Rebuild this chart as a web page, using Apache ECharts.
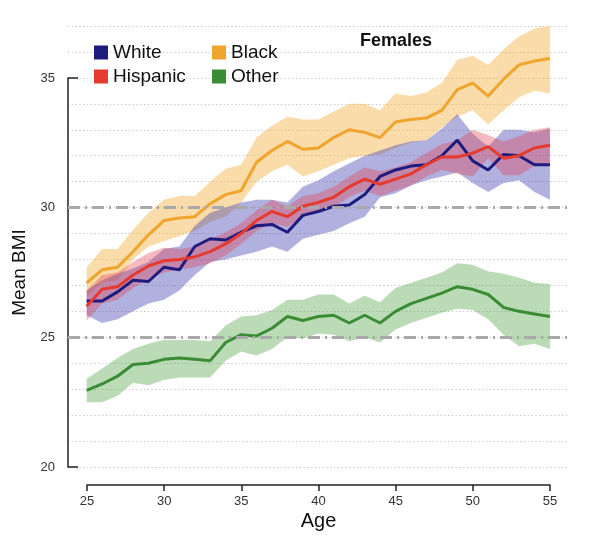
<!DOCTYPE html>
<html>
<head>
<meta charset="utf-8">
<script src="https://cdn.jsdelivr.net/npm/echarts@6.0.0/dist/echarts.min.js"></script>
<style>
  html, body { margin: 0; padding: 0; background: #fff; }
  #main { width: 596px; height: 544px; }
</style>
</head>
<body>
<div id="main"></div>
<script>
// ages 25..55, one point per year
var ages = [25, 26, 27, 28, 29, 30, 31, 32, 33, 34, 35, 36, 37, 38, 39, 40,
            41, 42, 43, 44, 45, 46, 47, 48, 49, 50, 51, 52, 53, 54, 55];

// mean BMI + band edges
var white   = [26.4, 26.4, 26.75, 27.2, 27.15, 27.7, 27.6, 28.5, 28.8, 28.75, 29.05, 29.3, 29.35, 29.05, 29.7, 29.85,
               30.05, 30.1, 30.5, 31.2, 31.45, 31.6, 31.65, 32.0, 32.6, 31.8, 31.45, 32.05, 32.0, 31.65, 31.65];
var whiteLo = [25.85, 25.55, 25.7, 26.0, 26.3, 26.45, 26.8, 27.4, 27.9, 28.0, 28.15, 28.3, 28.5, 28.3, 28.8, 28.95,
               29.1, 29.4, 29.65, 30.4, 30.55, 30.85, 31.05, 31.2, 31.35, 30.95, 30.6, 30.95, 31.05, 30.6, 30.3];
var whiteHi = [26.8, 27.2, 27.45, 27.65, 27.9, 28.4, 28.5, 29.3, 29.8, 30.0, 30.2, 30.3, 30.3, 30.2, 30.8, 31.05,
               31.4, 31.7, 32.0, 32.2, 32.4, 32.55, 32.6, 33.05, 33.6, 32.85, 32.35, 33.0, 33.0, 32.9, 33.05];

var hisp    = [26.2, 26.85, 26.95, 27.4, 27.75, 27.95, 28.0, 28.1, 28.3, 28.6, 29.0, 29.5, 29.85, 29.65, 30.05, 30.2,
               30.4, 30.8, 31.1, 30.9, 31.1, 31.3, 31.65, 31.95, 31.95, 32.1, 32.35, 31.9, 32.0, 32.3, 32.4];
var hispLo  = [25.65, 26.3, 26.45, 26.9, 27.25, 27.5, 27.6, 27.7, 27.85, 28.15, 28.6, 29.1, 29.4, 29.25, 29.65, 29.85,
               30.0, 30.4, 30.65, 30.45, 30.65, 30.85, 31.2, 31.45, 31.3, 31.2, 31.9, 31.25, 31.25, 31.6, 31.7];
var hispHi  = [26.8, 27.4, 27.5, 27.9, 28.25, 28.45, 28.4, 28.5, 28.75, 29.05, 29.4, 29.9, 30.3, 30.05, 30.45, 30.55,
               30.8, 31.2, 31.55, 31.4, 31.55, 31.75, 32.1, 32.45, 32.6, 33.0, 32.8, 32.55, 32.75, 33.0, 33.1];

var black   = [27.1, 27.6, 27.7, 28.3, 28.95, 29.5, 29.6, 29.65, 30.15, 30.5, 30.65, 31.75, 32.2, 32.55, 32.25, 32.3,
               32.7, 33.0, 32.9, 32.7, 33.3, 33.4, 33.45, 33.75, 34.55, 34.8, 34.3, 34.95, 35.5, 35.65, 35.75];
var blackLo = [26.6, 27.1, 27.2, 28.0, 28.5, 28.7, 28.9, 29.1, 29.45, 29.65, 30.2, 31.0, 31.4, 31.65, 31.2, 31.4,
               31.65, 31.9, 32.0, 32.05, 32.3, 32.5, 32.6, 33.1, 33.5, 33.75, 33.2, 33.75, 34.25, 34.5, 34.4];
var blackHi = [27.7, 28.4, 28.4, 29.15, 29.8, 30.3, 30.45, 30.45, 31.0, 31.5, 31.65, 32.7, 33.15, 33.5, 33.4, 33.4,
               33.7, 34.0, 34.0, 33.75, 34.4, 34.3, 34.45, 34.8, 35.7, 35.85, 35.5, 36.1, 36.6, 36.9, 37.0];

var other   = [22.95, 23.2, 23.5, 23.95, 24.0, 24.15, 24.2, 24.15, 24.1, 24.8, 25.1, 25.05, 25.35, 25.8, 25.65, 25.8,
               25.85, 25.55, 25.85, 25.55, 26.0, 26.3, 26.5, 26.7, 26.95, 26.85, 26.65, 26.15, 26.0, 25.9, 25.8];
var otherLo = [22.5, 22.5, 22.75, 23.25, 23.15, 23.35, 23.45, 23.45, 23.45, 24.1, 24.45, 24.3, 24.55, 25.0, 24.95, 25.15,
               25.1, 24.85, 25.0, 24.8, 25.3, 25.55, 25.75, 25.95, 26.1, 26.05, 25.7, 25.1, 24.65, 24.75, 24.55];
var otherHi = [23.4, 23.8, 24.2, 24.55, 24.75, 24.9, 24.9, 24.9, 24.85, 25.45, 25.8, 25.85, 26.05, 26.45, 26.45, 26.65,
               26.65, 26.3, 26.6, 26.35, 26.9, 27.1, 27.3, 27.5, 27.85, 27.8, 27.55, 27.45, 27.3, 27.1, 27.05];

var yTicks = [20, 25, 30, 35];
var refLines = [25, 30];

var chart = echarts.init(document.getElementById('main'), null, { renderer: 'canvas' });

function pairs(vals) {
  return ages.map(function (a, i) { return [a, vals[i]]; });
}

// confidence band: one polygon (upper edge, then lower edge back) per group
function band(key, lo, hi, color) {
  return {
    name: key + '_band', type: 'custom', silent: true, z: 1, clip: false,
    data: ages.map(function (a, i) { return [a, lo[i], hi[i]]; }),
    encode: { x: 0, y: [1, 2] },
    renderItem: function (params, api) {
      if (params.dataIndex !== 0) return null;
      var pts = [];
      for (var i = 0; i < ages.length; i++) pts.push(api.coord([ages[i], hi[i]]));
      for (var j = ages.length - 1; j >= 0; j--) pts.push(api.coord([ages[j], lo[j]]));
      return { type: 'polygon', shape: { points: pts }, style: { fill: color } };
    }
  };
}

function line(name, vals, color) {
  return {
    name: name, type: 'line', data: pairs(vals), symbol: 'none', z: 3,
    lineStyle: { width: 3, color: color }, itemStyle: { color: color }
  };
}

var series = [
  band('black', blackLo, blackHi, 'rgba(242,169,52,0.42)'),
  band('white', whiteLo, whiteHi, 'rgba(59,59,176,0.40)'),
  band('hisp', hispLo, hispHi, 'rgba(227,57,74,0.35)'),
  band('other', otherLo, otherHi, 'rgba(86,166,76,0.40)')
];

// dashed reference lines at 25 and 30
series.push({
  name: 'ref', type: 'line', data: [[25, 20]], symbol: 'none', silent: true, z: 2,
  lineStyle: { opacity: 0 },
  markLine: {
    symbol: 'none', silent: true, label: { show: false }, animation: false,
    lineStyle: { color: '#a9a9a9', width: 3, type: [12, 5, 2, 5] },
    data: refLines.map(function (v) { return { yAxis: v }; })
  }
});

series.push(line('Black', black, '#efa42b'));
series.push(line('White', white, '#1f1c80'));
series.push(line('Hispanic', hisp, '#e53a2d'));
series.push(line('Other', other, '#3a8c35'));

var option = {
  animation: false,
  textStyle: { fontFamily: 'Liberation Sans, Arial, sans-serif' },
  title: {
    text: 'Females', left: 355, top: 27,
    textStyle: { fontSize: 18, fontWeight: 'bold', color: '#111' }
  },
  legend: [{
    data: ['White', 'Hispanic'], orient: 'vertical', left: 89, top: 38,
    icon: 'rect', itemWidth: 14, itemHeight: 14, itemGap: 5,
    textStyle: { fontSize: 19, color: '#111' }
  }, {
    data: ['Black', 'Other'], orient: 'vertical', left: 207, top: 38,
    icon: 'rect', itemWidth: 14, itemHeight: 14, itemGap: 5,
    textStyle: { fontSize: 19, color: '#111' }
  }],
  grid: [
    { left: 68, right: 28, top: 26, bottom: 77 },   // data + gridlines
    { left: 87, right: 46, top: 300, bottom: 59 },  // x axis
    { left: 68, right: 28, top: 78, bottom: 77 }    // y axis (20..35)
  ],
  xAxis: [{
    gridIndex: 0, type: 'value', min: 23.79, max: 56.17,
    axisLine: { show: false }, axisTick: { show: false }, axisLabel: { show: false },
    splitLine: { show: false }
  }, {
    gridIndex: 1, type: 'value', min: 25, max: 55, interval: 5,
    name: 'Age', nameLocation: 'middle', nameGap: 26,
    nameTextStyle: { fontSize: 20, color: '#111' },
    axisLine: { lineStyle: { color: '#222', width: 1.5 } },
    axisTick: { length: 6, lineStyle: { color: '#222', width: 1.5 } },
    axisLabel: { fontSize: 13, color: '#333', margin: 10 },
    splitLine: { show: false }
  }, {
    gridIndex: 2, type: 'value', min: 25, max: 55, show: false
  }],
  yAxis: [{
    gridIndex: 0, type: 'value', min: 20, max: 37, interval: 1,
    axisLine: { show: false }, axisTick: { show: false }, axisLabel: { show: false },
    splitLine: { lineStyle: { color: '#c2c2c2', width: 1, type: [1.2, 2.6] } }
  }, {
    gridIndex: 1, type: 'value', show: false
  }, {
    gridIndex: 2, type: 'value', min: yTicks[0], max: yTicks[yTicks.length - 1], interval: 5,
    name: 'Mean BMI', nameLocation: 'middle', nameGap: 34,
    nameTextStyle: { fontSize: 19, color: '#111' },
    axisLine: { show: true, lineStyle: { color: '#222', width: 1.5 } },
    axisTick: { show: true, inside: true, length: 10, lineStyle: { color: '#222', width: 1.5 } },
    axisLabel: { fontSize: 13, color: '#333', margin: 13 },
    splitLine: { show: false }
  }],
  series: series
};

chart.setOption(option);
</script>
</body>
</html>
